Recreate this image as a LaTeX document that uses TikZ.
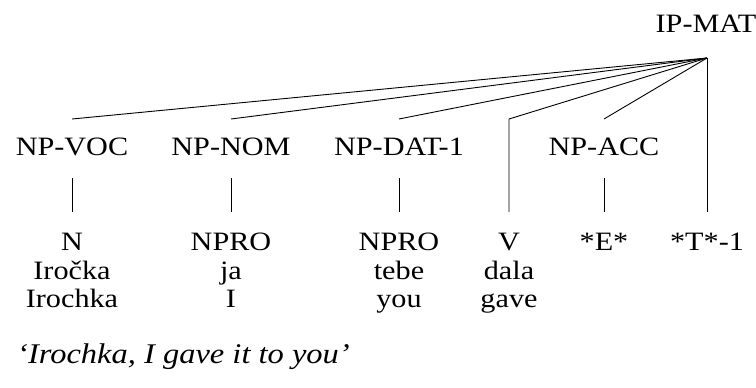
\documentclass[tikz,border=0pt]{standalone}
\usepackage{fontspec}
\setmainfont{Liberation Serif}[FakeStretch=1.14]
\begin{document}
\begin{tikzpicture}[x=1pt,y=-1pt,
  lbl/.style={anchor=base,inner sep=0pt,font=\fontsize{26.5}{30}\selectfont},
  branch/.style={draw=black,line width=0.9pt}]
\useasboundingbox (0,0) rectangle (756,388);
% root
\node[lbl] (ip) at (706,32) {IP-MAT};
\coordinate (apex) at (707,58);
% phrase level
\node[lbl] (voc) at (72,155) {NP-VOC};
\node[lbl] (nom) at (231,155) {NP-NOM};
\node[lbl] (dat) at (399,155) {NP-DAT-1};
\node[lbl] (acc) at (604,155) {NP-ACC};
\coordinate (vocT) at (72,119);
\coordinate (nomT) at (231,119);
\coordinate (datT) at (399,119);
\coordinate (accT) at (604,119);
\coordinate (vT) at (509,119);
% word level
\node[lbl] (n)  at (72,250) {N};
\node[lbl] (p1) at (231,250) {NPRO};
\node[lbl] (p2) at (399,250) {NPRO};
\node[lbl] (v)  at (509,250) {V};
\node[lbl] (e)  at (604,250) {*E*};
\node[lbl] (t)  at (707,250) {*T*-1};
\node[lbl] (w1) at (72,279) {Iročka};
\node[lbl] (w2) at (231,279) {ja};
\node[lbl] (w3) at (399,279) {tebe};
\node[lbl] (w4) at (509,279) {dala};
\node[lbl] (g1) at (72,307) {Irochka};
\node[lbl] (g2) at (231,307) {I};
\node[lbl] (g3) at (399,307) {you};
\node[lbl] (g4) at (509,307) {gave};
% short unary stems
\foreach \x/\nm in {72/n,231/p1,399/p2,604/e}{
  \coordinate (\nm a) at (\x,178);
  \coordinate (\nm b) at (\x,212);
  \draw[branch] (\nm a) -- (\nm b);
}
\coordinate (vB) at (509,212);
\coordinate (tB) at (707,212);
% branches from the root
\draw[branch] (apex) -- (vocT);
\draw[branch] (apex) -- (nomT);
\draw[branch] (apex) -- (datT);
\draw[branch] (apex) -- (accT);
\draw[branch] (apex) -- (vT) -- (vB);
\draw[branch] (apex) -- (tB);
% free translation
\node[anchor=base west,inner sep=0pt,font=\fontsize{28.5}{32}\selectfont\itshape] (tr) at (17,363) {‘Irochka, I gave it to you’};
\end{tikzpicture}
\end{document}
